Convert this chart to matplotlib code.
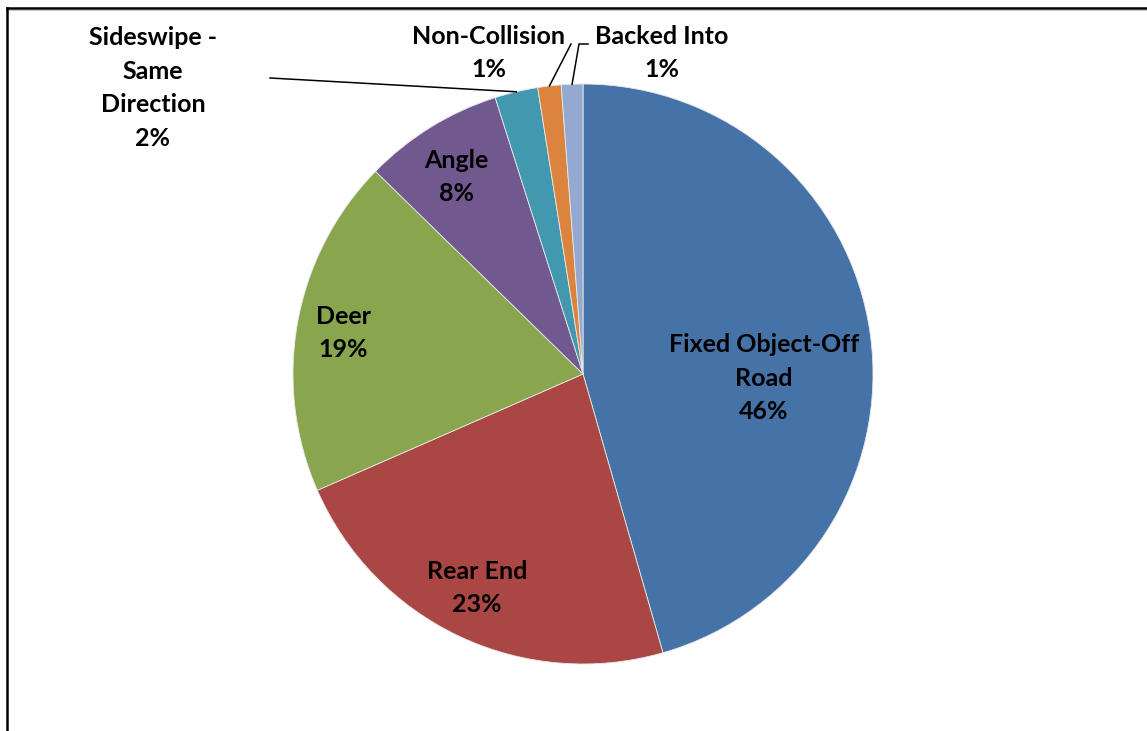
import numpy as np
from matplotlib import pyplot as plt
from matplotlib.lines import Line2D

# data
categories = ['Fixed Object-Off\nRoad', 'Rear End', 'Deer', 'Angle',
              'Sideswipe -\nSame\nDirection', 'Non-Collision', 'Backed Into']
shares = [45.6, 22.9, 18.9, 7.8, 2.4, 1.3, 1.2]
colors = ['#4572A7', '#AA4643', '#89A54E', '#71588F',
          '#4198AF', '#DB843D', '#93A9CF']

W, H = 1147, 731
CX, CY, R = 583, 374, 290

# label centres in pixels (top-left origin), layout only
label_px = [(764, 378), (477, 588), (343, 333), (456, 177),
            (153, 88), (489, 53), (662, 53)]
# where the leader line leaves the label (None = inside label)
leader_px = [None, None, None, None,
             [(270, 78)], [(571, 44)], [(588, 44), (579, 44)]]


def to_data(px, py):
  return (px - CX) / R, (CY - py) / R


fig = plt.figure(figsize=(W / 100, H / 100), dpi=100)
ax = fig.add_axes([(CX - R) / W, (H - CY - R) / H, 2 * R / W, 2 * R / H])

wedges, _ = ax.pie(shares, colors=colors, startangle=90, counterclock=False,
                   radius=1, wedgeprops=dict(edgecolor='#e8e8e8', linewidth=0.6))
ax.set_xlim(-1, 1)
ax.set_ylim(-1, 1)
ax.set_aspect('equal')
ax.axis('off')

font = dict(family=['Lato', 'DejaVu Sans'], fontweight='bold', fontsize=18)

for w, name, val, pos, lead in zip(wedges, categories, shares,
                                   label_px, leader_px):
  x, y = to_data(*pos)
  ax.text(x, y, f'{name}\n{round(val):.0f}%', ha='center', va='center',
          linespacing=1.55, color='black', clip_on=False, **font)
  if lead:
    mid = np.deg2rad((w.theta1 + w.theta2) / 2)
    pts = [to_data(*p) for p in lead] + [(np.cos(mid), np.sin(mid))]
    xs, ys = zip(*pts)
    ax.plot(xs, ys, color='black', linewidth=1.1, clip_on=False)

# outer frame (top and left edges visible)
fig.add_artist(Line2D([7 / W, 1], [1 - 8 / H, 1 - 8 / H], color='black',
                      linewidth=1.8, transform=fig.transFigure))
fig.add_artist(Line2D([7 / W, 1], [1 - 10 / H, 1 - 10 / H], color='#c8c8c8',
                      linewidth=0.8, transform=fig.transFigure))
fig.add_artist(Line2D([7 / W, 7 / W], [0, 1 - 8 / H], color='black',
                      linewidth=1.8, transform=fig.transFigure))

fig.savefig('out.png', dpi=100, facecolor='white')
